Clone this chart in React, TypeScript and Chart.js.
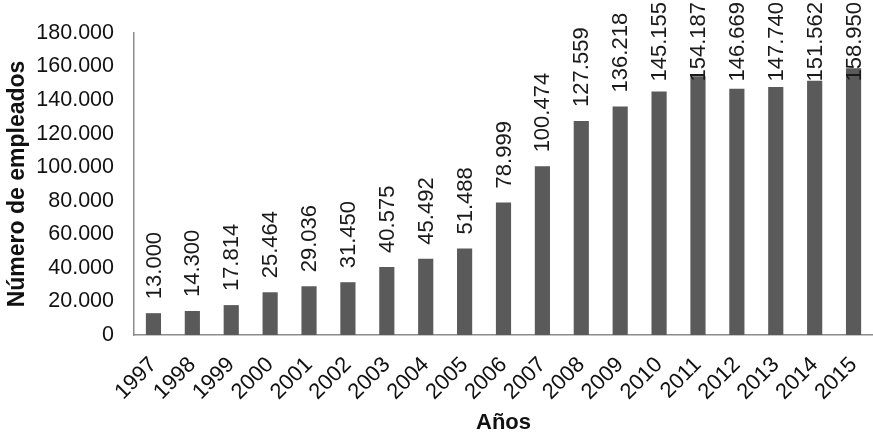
import React, { useEffect, useRef } from "react";
import { Chart, registerables } from "chart.js";

Chart.register(...registerables);

const years = ["1997","1998","1999","2000","2001","2002","2003","2004","2005","2006","2007","2008","2009","2010","2011","2012","2013","2014","2015"];
const employees = [13000,14300,17814,25464,29036,31450,40575,45492,51488,78999,100474,127559,136218,145155,154187,146669,147740,151562,158950];
const yTicks = [0,20000,40000,60000,80000,100000,120000,140000,160000,180000];

const FONT = "'Liberation Sans', Arial, sans-serif";

function fmt(v: number): string {
  return Math.round(v).toString().replace(/\B(?=(\d{3})+(?!\d))/g, ".");
}

const labelPlugin = {
  id: "barLabels",
  afterDatasetsDraw(chart: any) {
    const ctx = chart.ctx;
    const meta = chart.getDatasetMeta(0);
    ctx.save();
    ctx.font = `22px ${FONT}`;
    ctx.fillStyle = "#1a1a1a";
    ctx.textAlign = "left";
    ctx.textBaseline = "middle";
    meta.data.forEach((el: any, i: number) => {
      const text = fmt(employees[i]);
      const w = ctx.measureText(text).width;
      const bottom = Math.max(el.y - 14, 2 + w);
      ctx.save();
      ctx.translate(el.x, bottom);
      ctx.rotate(-Math.PI / 2);
      ctx.fillText(text, 0, 1);
      ctx.restore();
    });
    ctx.restore();
  },
};

export default function App() {
  const ref = useRef<HTMLCanvasElement>(null);
  useEffect(() => {
    if (!ref.current) return;
    const chart = new Chart(ref.current, {
      type: "bar",
      data: {
        labels: years,
        datasets: [
          {
            data: employees,
            backgroundColor: "#5a5a5a",
            barPercentage: 0.39,
            categoryPercentage: 1,
          },
        ],
      },
      options: {
        animation: false,
        responsive: true,
        maintainAspectRatio: false,
        layout: { padding: { top: 24, right: 0, left: 0, bottom: 0 } },
        plugins: { legend: { display: false }, tooltip: { enabled: false } },
        scales: {
          x: {
            grid: { display: false, drawTicks: false },
            border: { display: true, color: "#8c8c8c", width: 1.5 },
            ticks: {
              font: { family: FONT, size: 22 },
              color: "#111",
              maxRotation: 45,
              minRotation: 45,
              padding: 17,
              autoSkip: false,
            },
            title: {
              display: true,
              text: "Años",
              font: { family: FONT, size: 22, weight: "bold" },
              color: "#111",
              padding: { top: -3, bottom: -3 },
            },
            afterFit(scale: any) {
              scale.height = 98;
              scale.paddingLeft = 0;
              scale.paddingRight = 0;
            },
          },
          y: {
            min: 0,
            max: 180000,
            grid: { display: false, drawTicks: false },
            border: { display: true, color: "#8c8c8c", width: 1.5 },
            afterBuildTicks(scale: any) {
              scale.ticks = yTicks.map((v) => ({ value: v }));
            },
            ticks: {
              font: { family: FONT, size: 21.5 },
              color: "#111",
              padding: 20,
              callback: (v: any) => fmt(Number(v)),
            },
            title: {
              display: true,
              text: "Número de empleados",
              font: { family: FONT, size: 23, weight: "bold" },
              color: "#111",
              padding: { top: 4, bottom: 0 },
            },
            afterFit(scale: any) {
              scale.width = 134;
            },
          },
        },
      },
      plugins: [labelPlugin],
    });
    return () => chart.destroy();
  }, []);
  return (
    <div style={{ position: "absolute", left: 0, top: 0, width: 873, height: 433, background: "#fff" }}>
      <canvas ref={ref} />
    </div>
  );
}
